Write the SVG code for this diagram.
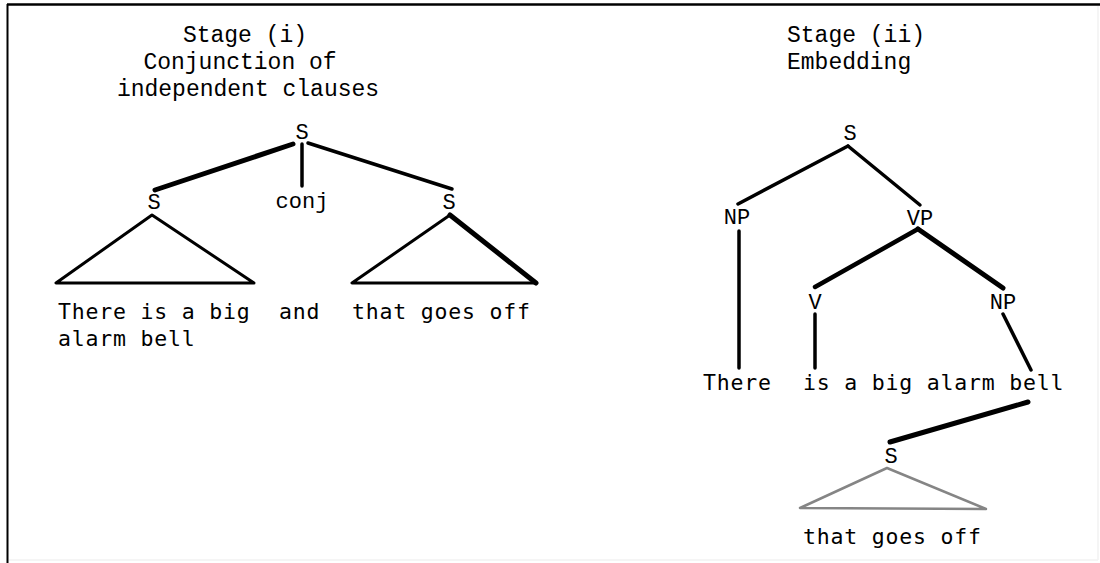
<svg xmlns="http://www.w3.org/2000/svg" width="1100" height="563" viewBox="0 0 1100 563">
<style>
.title{font-family:"Liberation Mono","Courier New",monospace;font-size:23px;fill:#000}
.lab{font-family:"Liberation Mono","Courier New",monospace;font-size:22px;fill:#000;text-anchor:middle}
.sent{font-family:"DejaVu Sans Mono","Liberation Mono",monospace;font-size:21.5px;letter-spacing:0.8px;fill:#000}
.e{stroke:#000;stroke-linecap:round;fill:none}
</style>
<rect width="1100" height="563" fill="#fff"/>
<g id="frame">
<line x1="7" y1="4.5" x2="1100" y2="4.5" stroke="#000" stroke-width="2.5"/>
<line x1="7.5" y1="4" x2="7.5" y2="563" stroke="#000" stroke-width="2"/>
<line x1="1098" y1="6" x2="1098" y2="560" stroke="#f2f2f2" stroke-width="1.5"/>
<line x1="9" y1="560" x2="1098" y2="560" stroke="#f2f2f2" stroke-width="1.5"/>
</g>
<g id="titles">
<text class="title" x="245" y="42" text-anchor="middle">Stage (i)</text>
<text class="title" x="240" y="69" text-anchor="middle">Conjunction of</text>
<text class="title" x="248" y="96" text-anchor="middle">independent clauses</text>
<text class="title" x="787" y="42">Stage (ii)</text>
<text class="title" x="787" y="69">Embedding</text>
</g>
<g id="connectors">
<line class="e" x1="293" y1="144" x2="155" y2="190" stroke-width="5"/>
<line class="e" x1="302" y1="144" x2="302" y2="186" stroke-width="3.5"/>
<line class="e" x1="308" y1="143" x2="452" y2="189" stroke-width="3.5"/>
<polygon class="e" points="152,215 56,283 254,283" stroke-width="3" stroke-linejoin="round"/>
<polygon class="e" points="450,215 352,283 536,283" stroke-width="3" stroke-linejoin="round"/>
<line class="e" x1="450" y1="215" x2="536" y2="283" stroke-width="5"/>
<line class="e" x1="848" y1="146" x2="738" y2="204" stroke-width="3.5"/>
<line class="e" x1="848" y1="146" x2="920" y2="205" stroke-width="3.5"/>
<line class="e" x1="739" y1="231" x2="739" y2="368" stroke-width="3.5"/>
<line class="e" x1="918" y1="229" x2="815" y2="287" stroke-width="4.5"/>
<line class="e" x1="918" y1="229" x2="1003" y2="288" stroke-width="5"/>
<line class="e" x1="815" y1="314" x2="815" y2="368" stroke-width="3.5"/>
<line class="e" x1="1003" y1="314" x2="1031" y2="370" stroke-width="3.5"/>
<line class="e" x1="1028" y1="402" x2="890" y2="442" stroke-width="5"/>
<polygon points="887,468 800,508 986,509" fill="none" stroke="#858585" stroke-width="2.5" stroke-linejoin="round"/>
</g>
<g id="n-s-top"><text class="lab" x="302" y="139">S</text></g>
<g id="n-s-left"><text class="lab" x="154" y="209">S</text></g>
<g id="n-conj"><text class="lab" x="302" y="208">conj</text></g>
<g id="n-s-right"><text class="lab" x="449" y="209">S</text></g>
<g id="n-sent-left">
<text class="sent" x="58" y="319">There is a big</text>
<text class="sent" x="58" y="346">alarm bell</text>
</g>
<g id="n-and"><text class="sent" x="279" y="319">and</text></g>
<g id="n-sent-right"><text class="sent" x="352" y="319">that goes off</text></g>
<g id="n2-s"><text class="lab" x="850" y="140">S</text></g>
<g id="n2-np"><text class="lab" x="737" y="224">NP</text></g>
<g id="n2-vp"><text class="lab" x="920" y="225">VP</text></g>
<g id="n2-v"><text class="lab" x="815" y="309">V</text></g>
<g id="n2-np2"><text class="lab" x="1003" y="309">NP</text></g>
<g id="n2-there"><text class="sent" x="703" y="390">There</text></g>
<g id="n2-isbell"><text class="sent" x="803" y="390">is a big alarm bell</text></g>
<g id="n2-s-emb"><text class="lab" x="891" y="463">S</text></g>
<g id="n2-clause"><text class="sent" x="803" y="544">that goes off</text></g>
</svg>
